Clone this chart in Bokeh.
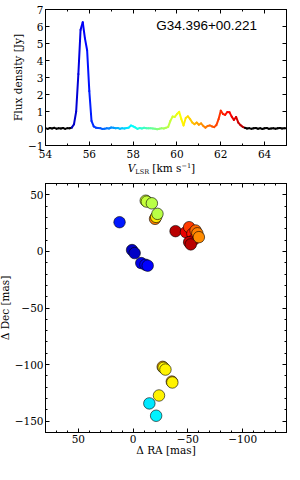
from bokeh.plotting import figure
from bokeh.models import (Range1d, SingleIntervalTicker, LinearAxis, Label, Div,
                          ColumnDataSource, CustomJSTickFormatter)
from bokeh.layouts import column
from bokeh.embed import file_html
from bokeh.resources import INLINE

# ---------------- data ----------------
velocity = [54.0, 54.1, 54.2, 54.3, 54.4, 54.5, 54.6, 54.7, 54.8, 54.9,
            55.0, 55.1, 55.2, 55.3, 55.4, 55.5, 55.6, 55.7, 55.8, 55.9,
            56.0, 56.1, 56.2, 56.3, 56.4, 56.5, 56.6, 56.7, 56.8, 56.9,
            57.0, 57.1, 57.2, 57.3, 57.4, 57.5, 57.6, 57.7, 57.8, 57.9,
            58.0, 58.1, 58.2, 58.3, 58.4, 58.5, 58.6, 58.7, 58.8, 58.9,
            59.0, 59.1, 59.2, 59.3, 59.4, 59.5, 59.6, 59.7, 59.8, 59.9,
            60.0, 60.1, 60.2, 60.3, 60.4, 60.5, 60.6, 60.7, 60.8, 60.9,
            61.0, 61.1, 61.2, 61.3, 61.4, 61.5, 61.6, 61.7, 61.8, 61.9,
            62.0, 62.1, 62.2, 62.3, 62.4, 62.5, 62.6, 62.7, 62.8, 62.9,
            63.0, 63.1, 63.2, 63.3, 63.4, 63.5, 63.6, 63.7, 63.8, 63.9,
            64.0, 64.1, 64.2, 64.3, 64.4, 64.5, 64.6, 64.7, 64.8, 64.9,
            65.0]
flux = [0.02, -0.02, 0.03, 0.00, 0.04, -0.01, 0.02, 0.00, 0.03, -0.02,
        0.02, 0.01, 0.05, 0.25, 1.00, 3.20, 5.80, 6.25, 5.30, 4.60,
        2.20, 0.45, 0.12, 0.05, 0.03, 0.02, -0.03, -0.02, 0.01, 0.00,
        0.06, 0.04, 0.02, 0.03, -0.01, 0.02, 0.00, 0.03, 0.05, 0.18,
        0.12, 0.06, -0.02, 0.03, 0.00, 0.04, 0.02, 0.01, 0.02, 0.00,
        -0.01, -0.04, -0.02, 0.01, 0.00, 0.04, 0.10, 0.45, 0.70, 0.68,
        0.85, 0.98, 0.55, 0.18, 0.62, 0.72, 0.55, 0.35, 0.25, 0.35,
        0.22, 0.30, 0.15, 0.05, 0.15, 0.18, 0.12, 0.08, 0.20, 0.55,
        1.05, 0.85, 0.80, 0.97, 0.95, 0.70, 0.50, 0.68, 0.35, 0.20,
        0.10, 0.04, 0.00, 0.02, -0.02, 0.01, 0.03, -0.01, 0.02, -0.03,
        0.01, 0.03, -0.02, 0.00, 0.02, -0.01, 0.01, 0.03, 0.00, 0.02,
        0.01]

spot_ra = [-20.0, -21.0, -11.5, -12.5, -17.1, -22.2,
           -38.7, -48.2, -51.1, -54.1, -55.6, -51.1, -52.6, -57.0, -58.6, -60.0,
           12.4, 1.0, -1.4, -7.4, -11.2, -13.3,
           -14.8, -21.0,
           -27.0, -27.8, -29.5, -35.3, -35.8, -23.6]
spot_dec = [28.8, 30.5, 44.8, 44.0, 42.5, 33.2,
            17.9, 17.0, 21.4, 15.6, 10.5, 8.2, 6.2, 18.5, 16.0, 12.6,
            25.8, 1.2, -1.5, -10.3, -11.8, -12.6,
            -134.3, -145.2,
            -102.0, -102.8, -104.4, -115.0, -115.8, -127.3]
spot_vel = [61.3, 60.4, 59.8, 59.7, 59.6, 59.6,
            63.0, 62.6, 61.9, 62.2, 62.6, 62.9, 63.0, 61.5, 61.3, 61.2,
            56.0, 55.25, 55.3, 55.6, 55.7, 55.8,
            57.8, 57.9,
            60.9, 60.3, 60.3, 60.9, 60.3, 60.3]

source_name = "G34.396+00.221"
v_cmap_min, v_cmap_max = 54.7, 63.5     # colour scale limits
v_emit_min, v_emit_max = 55.25, 63.05   # coloured (emission) range


def jet(v):
    t = (v - v_cmap_min) / (v_cmap_max - v_cmap_min)
    t = min(max(t, 0.0), 1.0)
    def c(x):
        return int(round(255 * min(max(x, 0.0), 1.0)))
    r = c(1.5 - abs(4 * t - 3))
    g = c(1.5 - abs(4 * t - 2))
    b = c(1.5 - abs(4 * t - 1))
    return "#%02x%02x%02x" % (r, g, b)


FONT = "DejaVu Serif"
FS = "10.5px"


def style_axes(p, xticker, yticker):
    xa, ya = p.xaxis[0], p.yaxis[0]
    for ax in (xa, ya):
        ax.axis_line_color = "black"
        ax.axis_line_width = 1
        ax.major_tick_in = 4
        ax.major_tick_out = 0
        ax.minor_tick_in = 2
        ax.minor_tick_out = 0
        ax.major_tick_line_color = "black"
        ax.minor_tick_line_color = "black"
        ax.major_label_text_font = FONT
        ax.major_label_text_font_size = FS
        ax.major_label_text_color = "black"
        ax.axis_label_text_font = FONT
        ax.axis_label_text_font_size = FS
        ax.axis_label_text_font_style = "normal"
        ax.axis_label_text_color = "black"
    ya.major_label_standoff = 2
    ya.axis_label_standoff = 1
    xa.ticker = xticker
    ya.ticker = yticker
    blank = CustomJSTickFormatter(code="return ''")
    top = LinearAxis(ticker=xticker, formatter=blank,
                     major_label_standoff=0, axis_line_color="black",
                     major_label_text_font_size="1px",
                     major_tick_in=4, major_tick_out=0, minor_tick_in=2,
                     minor_tick_out=0)
    right = LinearAxis(ticker=yticker, formatter=blank,
                       major_label_standoff=0, axis_line_color="black",
                       major_label_text_font_size="1px",
                       major_tick_in=4, major_tick_out=0, minor_tick_in=2,
                       minor_tick_out=0)
    p.add_layout(top, "above")
    p.add_layout(right, "right")
    p.xgrid.visible = False
    p.ygrid.visible = False
    p.outline_line_color = "black"
    p.background_fill_color = "white"
    p.border_fill_color = "white"
    return xa, ya


W = 295
# ---------------- spectrum ----------------
p1 = figure(width=W, height=163, output_backend="svg", toolbar_location=None,
            x_range=Range1d(54, 65), y_range=Range1d(-1, 7),
            min_border_left=42, min_border_right=4, min_border_top=9,
            min_border_bottom=18)
x0, y0, x1, y1, cols = [], [], [], [], []
for i in range(len(velocity) - 1):
    x0.append(velocity[i]); y0.append(flux[i])
    x1.append(velocity[i + 1]); y1.append(flux[i + 1])
    vm = 0.5 * (velocity[i] + velocity[i + 1])
    cols.append(jet(vm) if v_emit_min <= vm <= v_emit_max else "black")
p1.segment(x0=x0, y0=y0, x1=x1, y1=y1, color=cols, line_width=2,
           line_cap="round")
p1.yaxis.axis_label = "Flux density [Jy]"
xa1, ya1 = style_axes(p1, SingleIntervalTicker(interval=2, num_minor_ticks=2),
                      SingleIntervalTicker(interval=1, num_minor_ticks=0))
xa1.major_label_standoff = 4
ya1.axis_label_standoff = 1
ya1.major_label_overrides = {-1: "\u22121"}
p1.add_layout(Label(x=59.05, y=5.6, text=source_name,
                    text_font="Liberation Sans", text_font_size="13.5px",
                    text_color="black"))

vlabel = Div(width=W, height=14, margin=(0, 0, 0, 0), text=(
    "<div style=\"width:249px;margin-left:42px;text-align:center;"
    "font-family:'DejaVu Serif';font-size:10.5px;line-height:14px;"
    "position:relative;top:-3px;color:black;white-space:nowrap;\">"
    "<i>V</i><span style=\"font-size:6.5px;position:relative;top:2px\">LSR</span>"
    " [km s<span style=\"font-size:6.5px;position:relative;top:-4px\">\u22121</span>]"
    "</div>"))

# ---------------- spot map ----------------
p2 = figure(width=W, height=281, output_backend="svg", toolbar_location=None,
            x_range=Range1d(80, -140), y_range=Range1d(-160, 60),
            min_border_left=42, min_border_right=4, min_border_top=6,
            min_border_bottom=26)
src = ColumnDataSource(dict(ra=spot_ra, dec=spot_dec,
                            col=[jet(v) for v in spot_vel]))
p2.scatter("ra", "dec", source=src, size=11.5, fill_color="col",
           line_color="black", line_width=0.6)
p2.xaxis.axis_label = "\u0394 RA [mas]"
p2.yaxis.axis_label = "\u0394 Dec [mas]"
xa2, ya2 = style_axes(p2, SingleIntervalTicker(interval=50, num_minor_ticks=5),
                      SingleIntervalTicker(interval=50, num_minor_ticks=5))
xa2.major_label_standoff = 2
xa2.axis_label_standoff = -2
ovr = {-50: "\u221250", -100: "\u2212100", -150: "\u2212150"}
xa2.major_label_overrides = ovr
ya2.major_label_overrides = ovr

layout = column(p1, vlabel, p2, margin=(0, 0, 0, -5))
open("out.html", "w").write(file_html(layout, INLINE))
